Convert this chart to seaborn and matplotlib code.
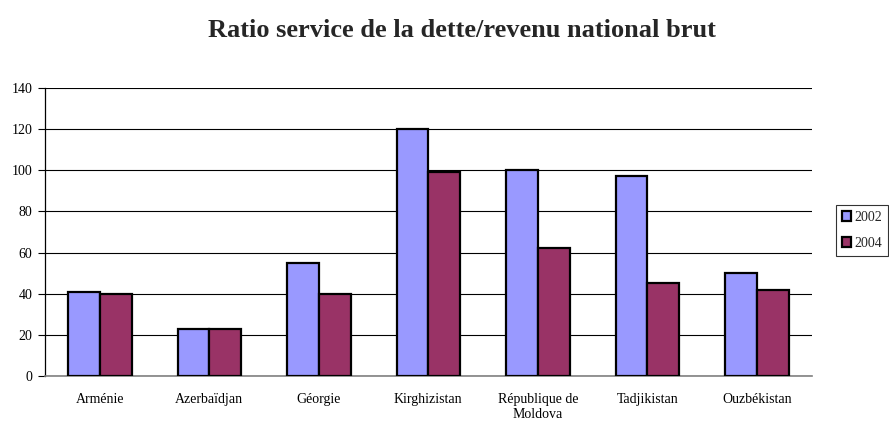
import matplotlib
matplotlib.use("Agg")
import matplotlib.pyplot as plt
import seaborn as sns
import pandas as pd

countries = ["Arménie", "Azerbaïdjan", "Géorgie", "Kirghizistan",
             "République de\nMoldova", "Tadjikistan", "Ouzbékistan"]
values_2002 = [41, 23, 55, 120, 100, 97, 50]
values_2004 = [40, 23, 40, 99, 62, 45, 42]
years = ["2002", "2004"]
colors = ["#9999FF", "#993366"]

df = pd.DataFrame({
    "pays": countries * 2,
    "annee": [years[0]] * len(countries) + [years[1]] * len(countries),
    "ratio": values_2002 + values_2004,
})

sns.set_theme(style="white")
plt.rcParams["font.family"] = ["Liberation Serif", "DejaVu Serif"]

fig = plt.figure(figsize=(8.89, 4.23), dpi=100)
ax = fig.add_axes([0.0506, 0.111, 0.8624, 0.681])

sns.barplot(data=df, x="pays", y="ratio", hue="annee", palette=colors,
            width=0.58, edgecolor="black", linewidth=1.6, saturation=1,
            ax=ax, zorder=3, legend=True)

ax.set_ylim(0, 140)
ax.set_yticks(range(0, 141, 20))
ax.set_xlim(-0.5, len(countries) - 0.5)
ax.yaxis.grid(True, color="black", linewidth=0.8)
ax.set_axisbelow(True)
ax.set_xlabel("")
ax.set_ylabel("")
ax.tick_params(axis="y", labelsize=10, length=5, width=0.8, direction="out",
               left=True, pad=4, colors="black")
ax.tick_params(axis="x", labelsize=10, length=0, pad=12, colors="black")
for lab in ax.get_xticklabels():
    lab.set_verticalalignment("top")
    lab.set_linespacing(1.2)

for side in ["top", "right"]:
    ax.spines[side].set_visible(False)
ax.spines["left"].set_color("black")
ax.spines["left"].set_linewidth(0.9)
ax.spines["bottom"].set_color("#808080")
ax.spines["bottom"].set_linewidth(1.2)

fig.text(0.52, 0.928, "Ratio service de la dette/revenu national brut",
         fontsize=19, fontweight="bold", ha="center", va="center")

handles, labels = ax.get_legend_handles_labels()
leg = ax.legend(handles, labels, loc="center left", bbox_to_anchor=(1.032, 0.505),
                fontsize=10, frameon=True, fancybox=False, edgecolor="black",
                handlelength=0.7, handleheight=0.7, handletextpad=0.2,
                borderpad=0.4, labelspacing=0.95, borderaxespad=0)
leg.get_frame().set_linewidth(0.8)

fig.savefig("out.png", dpi=100, facecolor="white")
